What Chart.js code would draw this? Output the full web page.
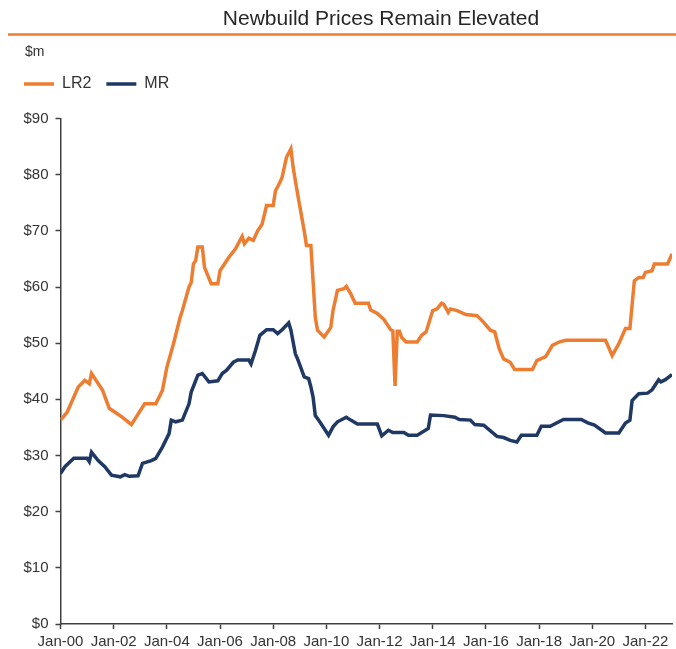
<!DOCTYPE html>
<html>
<head>
<meta charset="utf-8">
<title>Newbuild Prices Remain Elevated</title>
<script src="https://cdn.jsdelivr.net/npm/chart.js@4.4.0/dist/chart.umd.min.js"></script>
<style>
  html, body { margin: 0; padding: 0; background: #fff; }
  #wrap { width: 676px; height: 649px; }
</style>
</head>
<body>
<div id="wrap"><canvas id="myChart" width="676" height="649"></canvas></div>
<script>
// months counted from Jan-00, values in $m
const titleText = 'Newbuild Prices Remain Elevated';
const unitLabel = '$m';
const seriesNames = ['LR2', 'MR'];

const lr2Months = [0, 3, 8, 11, 13, 14, 19, 22, 28, 32, 36, 38, 43, 46, 48, 51, 54, 55, 58, 59,
  60, 61, 62, 64, 65, 68, 71, 72, 74, 76, 79, 81, 82, 83, 85, 87, 89, 91, 93, 96,
  97, 99, 100, 102, 104, 105, 107, 110, 111, 113, 114, 115, 116, 119, 122, 123, 125, 128, 129, 131,
  133, 139, 140, 143, 146, 149, 150, 151, 152, 153, 154, 156, 161, 163, 165, 168, 170, 172, 173, 175,
  176, 179, 183, 188, 191, 194, 196, 198, 200, 203, 205, 213, 215, 219, 222, 225, 228, 246, 249, 252,
  255, 257, 259, 261, 263, 264, 267, 268, 274, 276];
const lr2Values = [36.3, 37.7, 42.2, 43.4, 42.8, 44.6, 41.6, 38.4, 36.8, 35.5, 38.0, 39.2, 39.2, 41.6, 45.7, 49.9, 54.6, 55.8, 60.0, 60.8,
  64.1, 64.7, 67.1, 67.1, 63.5, 60.6, 60.6, 62.9, 64.1, 65.3, 66.8, 68.3, 69.0, 67.7, 68.7, 68.3, 70.0, 71.2, 74.5, 74.5,
  77.1, 78.6, 79.5, 83.1, 84.6, 81.3, 76.6, 70.0, 67.4, 67.4, 61.1, 54.6, 52.3, 51.1, 52.8, 55.8, 59.4, 59.7, 60.1, 58.8,
  57.1, 57.1, 55.9, 55.3, 54.2, 52.4, 52.2, 42.4, 52.1, 52.1, 51.0, 50.2, 50.2, 51.4, 52.0, 55.8, 56.1, 57.1, 56.9, 55.5,
  56.1, 55.8, 55.1, 54.9, 53.7, 52.3, 52.0, 49.0, 47.2, 46.6, 45.3, 45.3, 46.9, 47.6, 49.6, 50.2, 50.5, 50.5, 47.8, 49.9,
  52.6, 52.6, 61.1, 61.7, 61.7, 62.6, 62.9, 64.1, 64.1, 65.9];

const mrMonths = [0, 2, 6, 12, 13, 14, 17, 20, 23, 27, 29, 31, 35, 37, 41, 43, 46, 49, 50, 52,
  55, 58, 59, 62, 64, 67, 71, 73, 75, 78, 80, 85, 86, 88, 90, 93, 96, 98, 100, 101,
  103, 104, 106, 107, 110, 112, 113, 114, 115, 117, 121, 123, 125, 129, 131, 134, 143, 145, 148, 150,
  155, 157, 161, 166, 167, 173, 178, 180, 185, 187, 191, 197, 200, 203, 206, 208, 215, 217, 221, 225,
  227, 235, 238, 241, 246, 252, 255, 257, 258, 261, 265, 267, 270, 271, 273, 276];
const mrValues = [26.8, 28.0, 29.5, 29.5, 28.9, 30.6, 29.1, 28.0, 26.5, 26.2, 26.6, 26.3, 26.4, 28.6, 29.1, 29.5, 31.5, 33.9, 36.3, 36.0,
  36.3, 39.2, 41.3, 44.3, 44.6, 43.1, 43.3, 44.6, 45.2, 46.6, 47.0, 47.0, 46.3, 48.7, 51.4, 52.4, 52.4, 51.7, 52.4, 52.8,
  53.6, 52.3, 48.1, 47.2, 44.0, 43.7, 42.2, 40.4, 37.1, 36.0, 33.6, 35.1, 36.0, 36.8, 36.3, 35.6, 35.6, 33.5, 34.5, 34.1,
  34.1, 33.6, 33.6, 34.8, 37.2, 37.1, 36.8, 36.4, 36.3, 35.5, 35.4, 33.4, 33.2, 32.7, 32.4, 33.6, 33.6, 35.2, 35.2, 36.0,
  36.4, 36.4, 35.8, 35.4, 34.0, 34.0, 35.8, 36.3, 39.8, 41.0, 41.1, 41.7, 43.5, 43.1, 43.5, 44.4];

const yTicks = [0, 10, 20, 30, 40, 50, 60, 70, 80, 90];
const xTickMonths = [0, 24, 48, 72, 96, 120, 144, 168, 192, 216, 240, 264];
const xTickLabels = ['Jan-00', 'Jan-02', 'Jan-04', 'Jan-06', 'Jan-08', 'Jan-10', 'Jan-12', 'Jan-14', 'Jan-16', 'Jan-18', 'Jan-20', 'Jan-22'];

const orange = '#ED7D31';
const navy = '#1F3864';
const axisColor = '#404040';
const textColor = '#333333';
const fontFamily = '"Liberation Sans", Arial, sans-serif';

const toPoints = (months, values) => months.map((m, i) => ({ x: m, y: values[i] }));

// title, orange rule and unit label above the legend
const headerPlugin = {
  id: 'header',
  afterInit(chart) {
    // extra room between legend and plot
    const fit = chart.legend.fit;
    chart.legend.fit = function () {
      fit.call(this);
      this.height += 16.5;
    };
  },
  afterDraw(chart) {
    const c = chart.ctx;
    c.save();
    c.fillStyle = '#262626';
    c.font = '21px ' + fontFamily;
    c.textAlign = 'center';
    c.textBaseline = 'alphabetic';
    c.fillText(titleText, 381, 25);
    c.strokeStyle = orange;
    c.lineWidth = 2.5;
    c.beginPath();
    c.moveTo(8, 34.5);
    c.lineTo(676, 34.5);
    c.stroke();
    c.fillStyle = textColor;
    c.font = '14px ' + fontFamily;
    c.textAlign = 'left';
    c.fillText(unitLabel, 25, 56);
    c.restore();
  }
};

const ctx = document.getElementById('myChart').getContext('2d');

new Chart(ctx, {
  type: 'line',
  data: {
    datasets: [{
      label: seriesNames[0],
      data: toPoints(lr2Months, lr2Values),
      borderColor: orange,
      backgroundColor: orange,
      borderWidth: 3.5,
      pointRadius: 0,
      tension: 0
    }, {
      label: seriesNames[1],
      data: toPoints(mrMonths, mrValues),
      borderColor: navy,
      backgroundColor: navy,
      borderWidth: 3.5,
      pointRadius: 0,
      tension: 0
    }]
  },
  options: {
    responsive: false,
    animation: false,
    layout: { padding: { left: 9, right: 4, top: 61, bottom: 0 } },
    plugins: {
      legend: {
        position: 'top',
        align: 'start',
        labels: {
          usePointStyle: true,
          pointStyle: 'line',
          pointStyleWidth: 30,
          padding: 15,
          color: textColor,
          font: { family: fontFamily, size: 16 }
        }
      },
      tooltip: { enabled: false }
    },
    scales: {
      x: {
        type: 'linear',
        min: 0,
        max: 276,
        afterBuildTicks: (scale) => { scale.ticks = xTickMonths.map(v => ({ value: v })); },
        afterFit: (scale) => { scale.height = 25; },
        ticks: {
          autoSkip: false,
          maxRotation: 0,
          padding: 4,
          color: textColor,
          font: { family: fontFamily, size: 15 },
          callback: (v) => xTickLabels[xTickMonths.indexOf(v)]
        },
        grid: { drawOnChartArea: false, tickLength: 5, color: axisColor, tickWidth: 1.5 },
        border: { color: axisColor, width: 1.5 }
      },
      y: {
        min: 0,
        max: 90,
        afterBuildTicks: (scale) => { scale.ticks = yTicks.map(v => ({ value: v })); },
        afterFit: (scale) => { scale.width = 51.5; },
        ticks: {
          padding: 7,
          color: textColor,
          font: { family: fontFamily, size: 15 },
          callback: (v) => '$' + v
        },
        grid: { drawOnChartArea: false, tickLength: 5, color: axisColor, tickWidth: 1.5 },
        border: { color: axisColor, width: 1.5 }
      }
    }
  },
  plugins: [headerPlugin]
});
</script>
</body>
</html>
